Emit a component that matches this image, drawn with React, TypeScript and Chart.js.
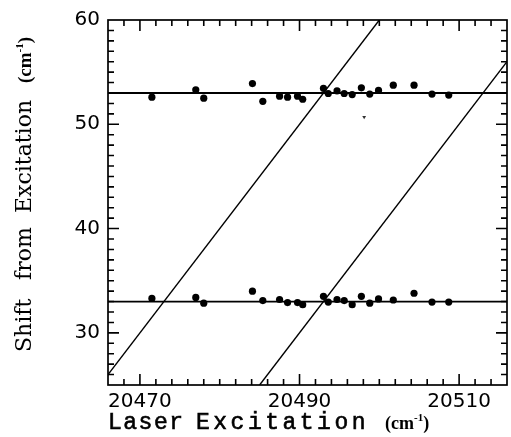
import { useEffect, useRef } from "react";
import { Chart, registerables } from "chart.js";

Chart.register(...registerables);

// ---- data ----
const laserExcitation = [
  20471.5, 20477.0, 20478.0, 20484.1, 20485.4, 20487.5, 20488.5, 20489.75, 20490.4,
  20493.0, 20493.6, 20494.7, 20495.6, 20496.6, 20497.75, 20498.8, 20499.9, 20501.75,
  20504.35, 20506.6, 20508.7,
];
const upperShift = [
  52.6, 53.3, 52.5, 53.9, 52.2, 52.7, 52.6, 52.7, 52.4, 53.45, 52.95, 53.2, 52.95, 52.85,
  53.5, 52.9, 53.25, 53.75, 53.75, 52.9, 52.8,
];
const lowerShift = [
  33.3, 33.4, 32.85, 34.0, 33.1, 33.2, 32.9, 32.9, 32.7, 33.5, 32.95, 33.2, 33.1, 32.7,
  33.5, 32.85, 33.25, 33.15, 33.8, 32.95, 32.95,
];
const fitLevels = [53, 33];
const diagonalA = [
  [20465, 25],
  [20500, 60],
];
const diagonalB = [
  [20485, 25],
  [20520, 60],
];
const strayMark = [[20498.1, 50.7]];
const xTickValues = [20470, 20490, 20510];
const yTickValues = [30, 40, 50, 60];
const xMinorTicks = [
  20468, 20470, 20472, 20474, 20476, 20478, 20480, 20482, 20484, 20486, 20488, 20490,
  20492, 20494, 20496, 20498, 20500, 20502, 20504, 20506, 20508, 20510, 20512, 20514,
];
const yMinorTicks = [
  26, 27, 28, 29, 30, 31, 32, 33, 34, 35, 36, 37, 38, 39, 40, 41, 42, 43, 44, 45, 46, 47, 48,
  49, 50, 51, 52, 53, 54, 55, 56, 57, 58, 59,
];
const X_MIN = 20466;
const X_MAX = 20516;
const Y_MIN = 25;
const Y_MAX = 60;

const framePlugin = {
  id: "frameTicks",
  afterDraw(chart: any) {
    const ctx = chart.ctx;
    const a = chart.chartArea;
    const xs = chart.scales.x;
    const ys = chart.scales.y;
    ctx.save();
    ctx.strokeStyle = "#000";
    ctx.lineWidth = 1.6;
    ctx.beginPath();
    xMinorTicks.forEach((v) => {
      const px = xs.getPixelForValue(v);
      const len = xTickValues.indexOf(v) >= 0 ? 11 : 6;
      ctx.moveTo(px, a.bottom);
      ctx.lineTo(px, a.bottom - len);
      ctx.moveTo(px, a.top);
      ctx.lineTo(px, a.top + len);
    });
    yMinorTicks.forEach((v) => {
      const py = ys.getPixelForValue(v);
      const len = yTickValues.indexOf(v) >= 0 ? 11 : 6;
      ctx.moveTo(a.left, py);
      ctx.lineTo(a.left + len, py);
      ctx.moveTo(a.right, py);
      ctx.lineTo(a.right - len, py);
    });
    ctx.stroke();
    ctx.lineWidth = 1.7;
    ctx.strokeRect(a.left, a.top, a.right - a.left, a.bottom - a.top);

    ctx.fillStyle = "#000";
    ctx.textAlign = "left";
    ctx.textBaseline = "alphabetic";
    // x title
    ctx.font = '23px "Liberation Mono"';
    ctx.lineWidth = 0.6;
    ctx.letterSpacing = "1.5px";
    ctx.fillText("Laser", 108, 429);
    ctx.strokeText("Laser", 108, 429);
    ctx.letterSpacing = "3.5px";
    ctx.fillText("Excitation", 196, 429);
    ctx.strokeText("Excitation", 196, 429);
    ctx.letterSpacing = "0px";
    const drawUnit = (x: number, y: number, size: number) => {
      ctx.font = `bold ${size}px "Liberation Serif"`;
      ctx.fillText("(cm", x, y);
      let w = ctx.measureText("(cm").width;
      ctx.font = `bold ${Math.round(size * 0.6)}px "Liberation Serif"`;
      ctx.fillText("-1", x + w, y - size * 0.42);
      w += ctx.measureText("-1").width;
      ctx.font = `bold ${size}px "Liberation Serif"`;
      ctx.fillText(")", x + w, y);
    };
    drawUnit(385, 429, 18);
    // y title (rotated)
    ctx.translate(31, 352);
    ctx.rotate(-Math.PI / 2);
    ctx.font = '22px "DejaVu Serif"';
    ctx.fillText("Shift", 0, 0);
    ctx.fillText("from", 72, 0);
    ctx.fillText("Excitation", 139, 0);
    drawUnit(269, 0, 19);
    ctx.restore();
  },
};

const pts = (xs: number[], ys: number[]) => xs.map((x, i) => ({ x, y: ys[i] }));
const pairPts = (arr: number[][]) => arr.map(([x, y]) => ({ x, y }));

export default function App() {
  const ref = useRef<HTMLCanvasElement | null>(null);
  useEffect(() => {
    document.body.style.margin = "0";
    const canvas = ref.current;
    if (!canvas) return;
    const lineStyle = {
      showLine: true,
      borderColor: "#000",
      pointRadius: 0,
      pointHoverRadius: 0,
      fill: false,
      tension: 0,
    };
    const chart = new Chart(canvas, {
      type: "scatter",
      data: {
        datasets: [
          ...fitLevels.map((lv) => ({
            ...lineStyle,
            borderWidth: 1.8,
            data: [
              { x: X_MIN, y: lv },
              { x: X_MAX, y: lv },
            ],
          })),
          { ...lineStyle, borderWidth: 1.4, data: pairPts(diagonalA) },
          { ...lineStyle, borderWidth: 1.4, data: pairPts(diagonalB) },
          {
            data: pts(laserExcitation, upperShift),
            pointRadius: 3.6,
            backgroundColor: "#000",
            borderColor: "#000",
            borderWidth: 0,
          },
          {
            data: pts(laserExcitation, lowerShift),
            pointRadius: 3.6,
            backgroundColor: "#000",
            borderColor: "#000",
            borderWidth: 0,
          },
          {
            data: pairPts(strayMark),
            pointStyle: "triangle",
            rotation: 180,
            pointRadius: 2.2,
            backgroundColor: "#333",
            borderColor: "#333",
            borderWidth: 0,
          },
        ] as any,
      },
      options: {
        animation: false,
        responsive: false,
        devicePixelRatio: 1,
        layout: { padding: { top: 19, right: 3, left: 0, bottom: 0 } },
        plugins: {
          legend: { display: false },
          tooltip: { enabled: false },
          title: { display: false },
        },
        scales: {
          x: {
            type: "linear",
            min: X_MIN,
            max: X_MAX,
            grid: { display: false, drawTicks: false },
            border: { display: false },
            afterBuildTicks: (s: any) => {
              s.ticks = xTickValues.map((value) => ({ value }));
            },
            afterFit: (s: any) => {
              s.height = 52;
            },
            ticks: {
              color: "#000",
              padding: 5,
              font: { family: '"DejaVu Sans"', size: 20 },
              callback: (v: any) => String(v),
            },
          },
          y: {
            type: "linear",
            min: Y_MIN,
            max: Y_MAX,
            grid: { display: false, drawTicks: false },
            border: { display: false },
            afterBuildTicks: (s: any) => {
              s.ticks = yTickValues.map((value) => ({ value }));
            },
            afterFit: (s: any) => {
              s.width = 108;
            },
            ticks: {
              color: "#000",
              padding: 8,
              font: { family: '"DejaVu Sans"', size: 20 },
              callback: (v: any) => String(v),
            },
          },
        },
      },
      plugins: [framePlugin],
    });
    return () => chart.destroy();
  }, []);
  return (
    <canvas
      ref={ref}
      width={511}
      height={437}
      style={{ display: "block", width: 511, height: 437 }}
    />
  );
}
